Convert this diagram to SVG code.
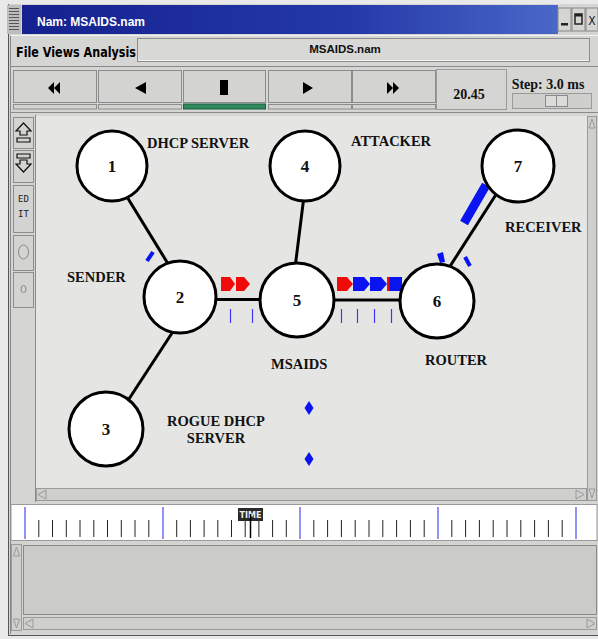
<svg xmlns="http://www.w3.org/2000/svg" width="598" height="639" viewBox="0 0 598 639">
<defs>
<linearGradient id="tb" x1="0" y1="0" x2="1" y2="0">
<stop offset="0" stop-color="#15218f"/>
<stop offset="0.6" stop-color="#2438a8"/>
<stop offset="1" stop-color="#4a68c8"/>
</linearGradient>
</defs>
<style>
.chrome{fill:#d5d5d3}
.btn{fill:#d3d3d1;stroke:#8c8c8c;stroke-width:1}
.ico{fill:#000}
.node circle{fill:#fff;stroke:#000;stroke-width:3}
.num{font-family:"Liberation Serif",serif;font-weight:bold;font-size:17px;text-anchor:middle;fill:#111}
.lbl{font-family:"Liberation Serif",serif;font-weight:bold;font-size:14.5px;fill:#111}
.edge{stroke:#000;stroke-width:3;fill:none}
.red{fill:#f00a0a}
.blue{fill:#0a14f0}
.bt{stroke:#3a3af0;stroke-width:1.2}
.tk{stroke:#222;stroke-width:1}
.bl{stroke:#4a4af0;stroke-width:1.2}
.arr{fill:none;stroke:#9a9a9a;stroke-width:1}
</style>
<rect x="0" y="0" width="598" height="639" fill="#e9e9e9"/>
<rect class="chrome" x="8" y="4" width="590" height="632"/>
<line x1="8.5" y1="4" x2="8.5" y2="636" stroke="#555"/>
<line x1="10.5" y1="36" x2="10.5" y2="634" stroke="#888"/>
<line x1="8" y1="635.5" x2="598" y2="635.5" stroke="#555"/>
<g id="titlebar">
<rect x="7" y="5" width="14" height="29" fill="#bdbdbd"/>
<g stroke="#555" stroke-width="1">
<line x1="9" y1="8.5" x2="19" y2="8.5"/><line x1="9" y1="11.5" x2="19" y2="11.5"/><line x1="9" y1="14.5" x2="19" y2="14.5"/><line x1="9" y1="17.5" x2="19" y2="17.5"/><line x1="9" y1="20.5" x2="19" y2="20.5"/><line x1="9" y1="23.5" x2="19" y2="23.5"/><line x1="9" y1="26.5" x2="19" y2="26.5"/><line x1="9" y1="29.5" x2="19" y2="29.5"/>
</g>
<rect x="22" y="5" width="536" height="29" fill="url(#tb)"/>
<text x="37" y="26" font-family="Liberation Sans,Arial,sans-serif" font-weight="bold" font-size="12" fill="#fff">Nam: MSAIDS.nam</text>
<rect x="558" y="8" width="13" height="23" fill="#d5d5d3" stroke="#888"/>
<rect x="572" y="8" width="13" height="23" fill="#d5d5d3" stroke="#888"/>
<rect x="586" y="8" width="12" height="23" fill="#d5d5d3" stroke="#888"/>
<rect x="561" y="23" width="7" height="2.5" fill="#222"/>
<rect x="575" y="14" width="7" height="10" fill="none" stroke="#222" stroke-width="1.5"/>
<rect x="575" y="14" width="7" height="2.5" fill="#222"/>
<text x="592" y="25" font-family="DejaVu Sans Condensed,sans-serif" font-size="12" text-anchor="middle" fill="#222">X</text>
</g>
<g id="menubar">
<line x1="11" y1="35.5" x2="598" y2="35.5" stroke="#f2f2f2"/>
<line x1="11" y1="66.5" x2="598" y2="66.5" stroke="#8a8a8a"/>
<text x="16" y="57" font-family="DejaVu Sans Condensed,sans-serif" font-weight="bold" font-size="14.5" textLength="120" lengthAdjust="spacingAndGlyphs" fill="#000">File Views  Analysis</text>
<rect x="137.5" y="38.5" width="452" height="23" fill="#d8d8d6" stroke="#8c8c8c"/>
<line x1="138" y1="60.5" x2="589" y2="60.5" stroke="#f4f4f4"/>
<text x="345" y="53" font-family="Liberation Sans,Arial,sans-serif" font-weight="bold" font-size="11.5" text-anchor="middle" fill="#111">MSAIDS.nam</text>
</g>
<g id="toolbar">
<rect class="btn" x="13.5" y="70.5" width="83" height="32"/>
<rect class="btn" x="98.5" y="70.5" width="83" height="32"/>
<rect class="btn" x="183.5" y="70.5" width="82" height="32"/>
<rect class="btn" x="268.5" y="70.5" width="83" height="32"/>
<rect class="btn" x="352.5" y="70.5" width="83" height="32"/>
<rect class="btn" x="13.5" y="104.5" width="83" height="4.5"/>
<rect class="btn" x="98.5" y="104.5" width="83" height="4.5"/>
<rect x="183.5" y="104" width="82" height="5" fill="#2f8a5e" stroke="#1e5e40"/>
<rect class="btn" x="268.5" y="104.5" width="83" height="4.5"/>
<rect class="btn" x="352.5" y="104.5" width="83" height="4.5"/>
<polygon class="ico" points="48,88 54,82 54,94"/><polygon class="ico" points="54,88 60,82 60,94"/>
<polygon class="ico" points="135,88 146,82 146,94"/>
<rect class="ico" x="220" y="80" width="8" height="15"/>
<polygon class="ico" points="303,82 313,88 303,94"/>
<polygon class="ico" points="387,82 393,88 387,94"/><polygon class="ico" points="393,82 399,88 393,94"/>
<rect x="436.5" y="69.5" width="70" height="40" fill="none" stroke="#9a9a9a"/>
<text x="469" y="99" font-family="Liberation Serif,serif" font-weight="bold" font-size="14" text-anchor="middle" fill="#111">20.45</text>
<text x="548" y="89" font-family="Liberation Serif,serif" font-weight="bold" font-size="14" text-anchor="middle" fill="#111">Step: 3.0 ms</text>
<rect x="512.5" y="93.5" width="79" height="15" fill="#cfcfcd" stroke="#9a9a9a"/>
<rect x="545.5" y="95.5" width="22" height="11" fill="#dcdcda" stroke="#8a8a8a"/>
<line x1="556.5" y1="96" x2="556.5" y2="106" stroke="#8a8a8a"/>
<line x1="11" y1="112.5" x2="598" y2="112.5" stroke="#8a8a8a"/>
</g>
<g id="tools">
<line x1="35.5" y1="115" x2="35.5" y2="502" stroke="#8a8a8a"/>
<rect class="btn" x="13.5" y="117.5" width="20" height="31"/>
<rect class="btn" x="13.5" y="150.5" width="20" height="32"/>
<rect class="btn" x="13.5" y="185.5" width="20" height="47"/>
<rect class="btn" x="13.5" y="235.5" width="20" height="35"/>
<rect class="btn" x="13.5" y="272.5" width="20" height="35"/>
<path d="M23.5 123 L16 131 L20 131 L20 135 L27 135 L27 131 L31 131 Z M17 138 L30 138 L30 142 L17 142 Z" fill="none" stroke="#111" stroke-width="1.2"/>
<path d="M17 154 L30 154 L30 158 L17 158 Z M20 160 L27 160 L27 164 L31 164 L23.5 172 L16 164 L20 164 Z" fill="none" stroke="#111" stroke-width="1.2"/>
<text x="23.5" y="202" font-family="DejaVu Sans Mono,monospace" font-size="9" text-anchor="middle" fill="#222">ED</text>
<text x="23.5" y="217" font-family="DejaVu Sans Mono,monospace" font-size="9" text-anchor="middle" fill="#222">IT</text>
<ellipse cx="23.5" cy="252" rx="5" ry="7" fill="none" stroke="#888"/>
<ellipse cx="23.5" cy="289" rx="2.5" ry="3.5" fill="none" stroke="#888"/>
</g>
<rect x="36" y="116" width="551" height="372" fill="#e5e6e4"/>
<g id="scrollbars">
<rect x="587.5" y="116.5" width="9" height="384" fill="#cfcfcd" stroke="#9a9a9a"/>
<polygon class="arr" points="592,119 589,128 595,128"/>
<polygon class="arr" points="592,498 589,489 595,489"/>
<rect x="36.5" y="488.5" width="550" height="12" fill="#cfcfcd" stroke="#9a9a9a"/>
<polygon class="arr" points="38,494.5 46,490 46,499"/>
<polygon class="arr" points="584,494.5 576,490 576,499"/>
</g>
<g id="connectors">
<line class="edge" x1="124" y1="192" x2="170" y2="267"/>
<line class="edge" x1="174" y1="330" x2="127" y2="402"/>
<line class="edge" x1="212" y1="299.5" x2="265" y2="299.5"/>
<line class="edge" x1="304" y1="196" x2="295" y2="268"/>
<line class="edge" x1="330" y1="300" x2="405" y2="300" stroke-width="4"/>
<line class="edge" x1="447" y1="271" x2="497" y2="193"/>
</g>
<g id="packets">
<polygon class="red" points="221,277 230,277 235,284 230,291 221,291"/>
<polygon class="red" points="236,277 244,277 250,284 244,291 236,291"/>
<polygon class="red" points="337,277 347,277 353,284 347,291 337,291"/>
<polygon class="blue" points="353,277 364,277 370,284 364,291 353,291"/>
<polygon class="blue" points="370,277 381,277 387,284 381,291 370,291"/>
<rect class="blue" x="387" y="277" width="15" height="14"/>
<rect class="red" x="387" y="277" width="2.5" height="14"/>
<line x1="464" y1="223" x2="486" y2="185" stroke="#0a14f0" stroke-width="9"/>
<line x1="147" y1="261" x2="153" y2="252" stroke="#0a14f0" stroke-width="4"/>
<polygon class="blue" points="437,254 443,252 445,262 440,263"/>
<line x1="465" y1="257" x2="470" y2="266" stroke="#0a14f0" stroke-width="4"/>
<polygon class="blue" points="309,401 313.5,408 309,415 304.5,408"/>
<polygon class="blue" points="309,452 313.5,459 309,466 304.5,459"/>
<g class="bt">
<line x1="230.5" y1="309" x2="230.5" y2="323"/>
<line x1="252.5" y1="309" x2="252.5" y2="323"/>
<line x1="341.5" y1="309" x2="341.5" y2="323"/>
<line x1="357.5" y1="309" x2="357.5" y2="323"/>
<line x1="374.5" y1="309" x2="374.5" y2="323"/>
<line x1="391.5" y1="309" x2="391.5" y2="323"/>
</g>
</g>
<g id="node1" class="node"><circle cx="112" cy="166" r="35"/><text class="num" x="112" y="172">1</text><text class="lbl" x="147" y="148">DHCP SERVER</text></g>
<g id="node2" class="node"><circle cx="180" cy="297" r="36"/><text class="num" x="180" y="303">2</text><text class="lbl" x="67" y="282">SENDER</text></g>
<g id="node3" class="node"><circle cx="106" cy="429" r="37"/><text class="num" x="106" y="435">3</text><text class="lbl" x="216" y="426" text-anchor="middle">ROGUE DHCP</text><text class="lbl" x="216" y="443" text-anchor="middle">SERVER</text></g>
<g id="node4" class="node"><circle cx="305" cy="166" r="35"/><text class="num" x="305" y="172">4</text><text class="lbl" x="351" y="146">ATTACKER</text></g>
<g id="node5" class="node"><circle cx="297" cy="300" r="37"/><text class="num" x="297" y="306">5</text><text class="lbl" x="271" y="369">MSAIDS</text></g>
<g id="node6" class="node"><circle cx="437" cy="301" r="37"/><text class="num" x="437" y="307">6</text><text class="lbl" x="425" y="365">ROUTER</text></g>
<g id="node7" class="node"><circle cx="518" cy="166" r="36"/><text class="num" x="518" y="172">7</text><text class="lbl" x="505" y="232">RECEIVER</text></g>
<g id="timeline">
<rect x="11" y="504.5" width="586" height="36" fill="#fff" stroke="#9a9a9a"/>
<g class="bl">
<line x1="25" y1="507" x2="25" y2="539"/><line x1="163" y1="507" x2="163" y2="539"/><line x1="300" y1="507" x2="300" y2="539"/><line x1="438" y1="507" x2="438" y2="539"/><line x1="576" y1="507" x2="576" y2="539"/>
</g>
<g class="tk">
<line x1="38.8" y1="520" x2="38.8" y2="537"/><line x1="52.5" y1="520" x2="52.5" y2="537"/><line x1="66.3" y1="520" x2="66.3" y2="537"/><line x1="80" y1="520" x2="80" y2="537"/><line x1="93.8" y1="520" x2="93.8" y2="537"/><line x1="107.5" y1="520" x2="107.5" y2="537"/><line x1="121.3" y1="520" x2="121.3" y2="537"/><line x1="135" y1="520" x2="135" y2="537"/><line x1="148.8" y1="520" x2="148.8" y2="537"/>
<line x1="176.7" y1="520" x2="176.7" y2="537"/><line x1="190.4" y1="520" x2="190.4" y2="537"/><line x1="204.1" y1="520" x2="204.1" y2="537"/><line x1="217.8" y1="520" x2="217.8" y2="537"/><line x1="231.5" y1="520" x2="231.5" y2="537"/><line x1="245.2" y1="520" x2="245.2" y2="537"/><line x1="258.9" y1="520" x2="258.9" y2="537"/><line x1="272.6" y1="520" x2="272.6" y2="537"/><line x1="286.3" y1="520" x2="286.3" y2="537"/>
<line x1="313.8" y1="520" x2="313.8" y2="537"/><line x1="327.6" y1="520" x2="327.6" y2="537"/><line x1="341.4" y1="520" x2="341.4" y2="537"/><line x1="355.2" y1="520" x2="355.2" y2="537"/><line x1="369" y1="520" x2="369" y2="537"/><line x1="382.8" y1="520" x2="382.8" y2="537"/><line x1="396.6" y1="520" x2="396.6" y2="537"/><line x1="410.4" y1="520" x2="410.4" y2="537"/><line x1="424.2" y1="520" x2="424.2" y2="537"/>
<line x1="451.8" y1="520" x2="451.8" y2="537"/><line x1="465.6" y1="520" x2="465.6" y2="537"/><line x1="479.4" y1="520" x2="479.4" y2="537"/><line x1="493.2" y1="520" x2="493.2" y2="537"/><line x1="507" y1="520" x2="507" y2="537"/><line x1="520.8" y1="520" x2="520.8" y2="537"/><line x1="534.6" y1="520" x2="534.6" y2="537"/><line x1="548.4" y1="520" x2="548.4" y2="537"/><line x1="562.2" y1="520" x2="562.2" y2="537"/>
</g>
<rect x="238" y="508" width="25" height="13" fill="#2a2a2a"/>
<text x="250.5" y="518" font-family="DejaVu Sans Condensed,sans-serif" font-weight="bold" font-size="8" text-anchor="middle" fill="#eee" textLength="22" lengthAdjust="spacingAndGlyphs">TIME</text>
<line x1="250.5" y1="514" x2="250.5" y2="538" stroke="#000" stroke-width="1.5"/>
</g>
<g id="bottompanel">
<rect x="11" y="542" width="586" height="91" fill="#d3d3d1"/>
<rect x="23.5" y="545.5" width="573" height="69" fill="#cbcbca" stroke="#8a8a8a"/>
<rect x="11.5" y="544.5" width="10" height="86" fill="#cfcfcd" stroke="#9a9a9a"/>
<polygon class="arr" points="16.5,547 13.5,556 19.5,556"/>
<polygon class="arr" points="16.5,628 13.5,619 19.5,619"/>
<rect x="23.5" y="617.5" width="573" height="12" fill="#cfcfcd" stroke="#9a9a9a"/>
<polygon class="arr" points="25,623.5 33,619 33,628"/>
<polygon class="arr" points="595,623.5 587,619 587,628"/>
</g>
</svg>
